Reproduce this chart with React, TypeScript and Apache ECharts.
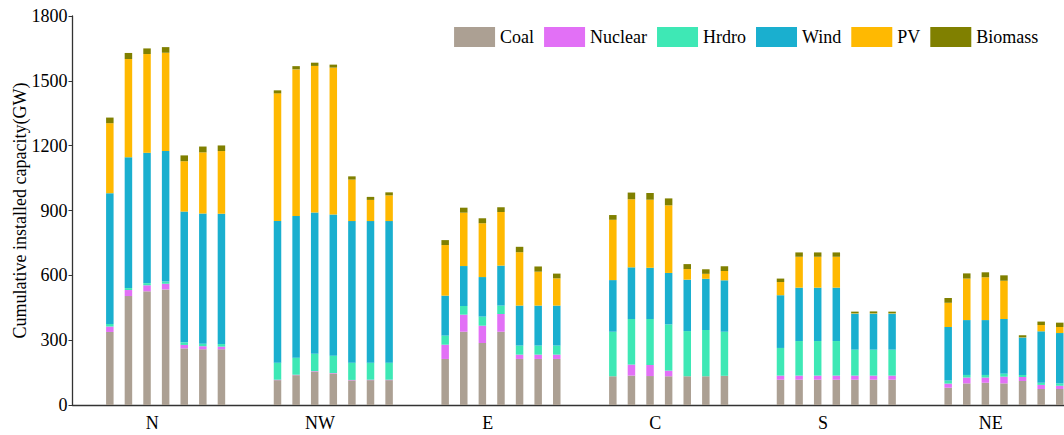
import React, { useEffect, useRef } from 'react';
import * as echarts from 'echarts';

const regions = ['N', 'NW', 'E', 'C', 'S', 'NE'];
const energyTypes = ['Coal', 'Nuclear', 'Hrdro', 'Wind', 'PV', 'Biomass'];
const energyColors = ['#ACA093', '#E270F6', '#3EE8B5', '#1AAFCF', '#FFB901', '#808000'];
const yTicks = { min: 0, max: 1800, interval: 300 };

// values per region, 7 scenarios each (GW)
const coal = [
  [338, 504, 526, 535, 262, 258, 258],
  [115, 138, 155, 146, 114, 115, 115],
  [213, 339, 287, 339, 213, 213, 213],
  [133, 136, 134, 133, 133, 133, 135],
  [117, 117, 117, 117, 117, 117, 117],
  [80, 100, 103, 100, 111, 74, 74],
];
const nuclear = [
  [25, 28, 28, 26, 16, 14, 12],
  [2, 2, 2, 2, 2, 2, 2],
  [66, 79, 80, 82, 20, 20, 20],
  [0, 51, 51, 26, 0, 0, 0],
  [19, 19, 19, 19, 19, 19, 19],
  [19, 27, 24, 31, 19, 19, 15],
];
const hydro = [
  [12, 9, 10, 10, 12, 11, 12],
  [79, 79, 80, 80, 80, 79, 79],
  [42, 40, 42, 39, 42, 42, 42],
  [206, 211, 213, 214, 209, 214, 204],
  [128, 160, 160, 160, 120, 120, 120],
  [14, 12, 12, 14, 9, 10, 11],
];
const wind = [
  [605, 605, 603, 604, 605, 603, 603],
  [655, 655, 654, 654, 655, 655, 655],
  [185, 185, 183, 185, 185, 185, 185],
  [239, 239, 237, 238, 238, 237, 238],
  [244, 247, 247, 247, 167, 167, 167],
  [248, 254, 254, 253, 173, 238, 233],
];
const pv = [
  [324, 455, 457, 455, 233, 283, 290],
  [591, 679, 678, 679, 192, 98, 119],
  [234, 247, 249, 248, 247, 157, 126],
  [279, 315, 315, 313, 49, 23, 43],
  [61, 143, 143, 143, 2, 2, 2],
  [112, 192, 198, 177, 2, 29, 28],
];
const biomass = [
  [26, 28, 26, 26, 27, 27, 26],
  [14, 15, 15, 14, 15, 14, 14],
  [23, 23, 23, 22, 25, 24, 22],
  [22, 31, 31, 32, 23, 21, 22],
  [16, 20, 20, 20, 7, 8, 7],
  [22, 24, 23, 25, 9, 16, 20],
];
const scenarioCount = 7;

const FONT = 'Liberation Serif';

export default function App() {
  const ref = useRef<HTMLDivElement>(null);
  useEffect(() => {
    if (!ref.current) return;
    const chart = echarts.init(ref.current, null, { renderer: 'svg' });
    const byType = [coal, nuclear, hydro, wind, pv, biomass];
    const barCommon = { type: 'bar', barWidth: 7.5, barGap: '148%' };
    const series: any[] = [
      { ...barCommon, name: '_pad', stack: 'pad', data: regions.map(() => '-'), silent: true },
    ];
    for (let k = 0; k < scenarioCount; k++) {
      energyTypes.forEach((t, ti) => {
        series.push({
          ...barCommon,
          name: t,
          stack: 's' + k,
          itemStyle: { color: energyColors[ti] },
          data: regions.map((_, ri) => byType[ti][ri][k]),
        });
      });
    }
    const legendText = { fontSize: 18, fontFamily: FONT, color: '#000' };
    chart.setOption({
      animation: false,
      color: energyColors,
      textStyle: { fontFamily: FONT },
      legend: {
        data: energyTypes,
        top: 22,
        right: 36.7,
        itemWidth: 41,
        itemHeight: 20,
        itemGap: 10,
        icon: 'rect',
        textStyle: legendText,
      },
      grid: { left: 72.5, right: 1.5, top: 16, bottom: 30, containLabel: false, outerBoundsMode: 'none' },
      xAxis: {
        type: 'category',
        data: regions,
        axisLine: { lineStyle: { color: '#333', width: 1.3 } },
        axisTick: { show: false },
        axisLabel: {
          fontSize: 18,
          fontFamily: FONT,
          color: '#000',
          margin: 9,
          padding: [0, 8, 0, 0],
        },
      },
      yAxis: {
        type: 'value',
        min: yTicks.min,
        max: yTicks.max,
        interval: yTicks.interval,
        name: 'Cumulative installed capacity(GW)',
        nameLocation: 'middle',
        nameGap: 44,
        nameMoveOverlap: false,
        nameTextStyle: { fontSize: 18, fontFamily: FONT, color: '#000' },
        axisLine: { show: true, lineStyle: { color: '#333', width: 1.3 } },
        axisTick: { show: true, length: 4, lineStyle: { color: '#333' } },
        splitLine: { show: false },
        axisLabel: {
          fontSize: 18,
          fontFamily: FONT,
          color: '#000',
          margin: 5,
          formatter: (v: number) => String(v),
        },
      },
      series,
    });
    return () => chart.dispose();
  }, []);
  return (
    <div style={{ position: 'absolute', left: 0, top: 0, width: 1064, height: 435, overflow: 'hidden' }}>
      <div ref={ref} style={{ width: 1080, height: 435 }} />
    </div>
  );
}
